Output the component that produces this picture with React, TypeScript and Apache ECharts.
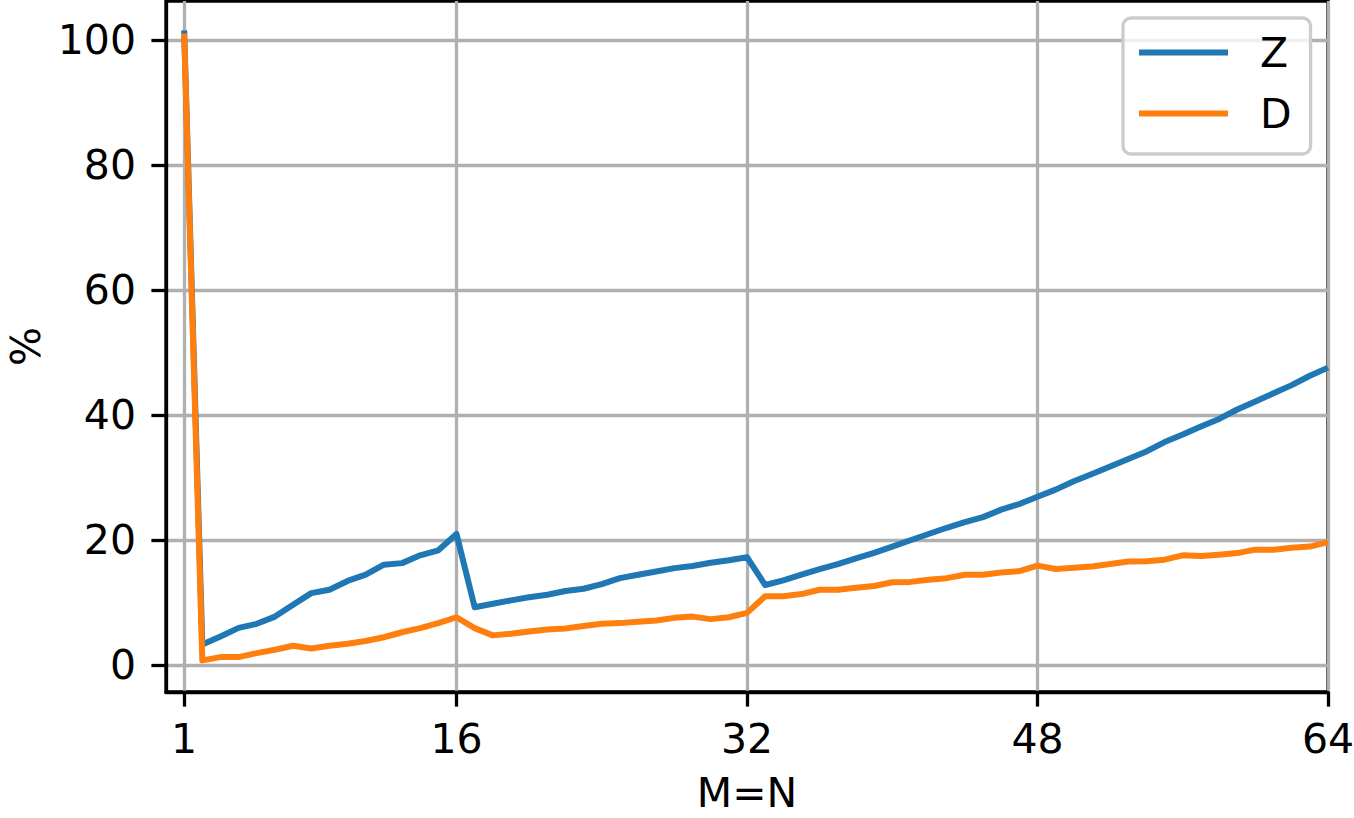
import React, { useEffect, useRef } from "react";
import * as echarts from "echarts";

const xValues: number[] = Array.from({ length: 64 }, (_, i) => i + 1);
const xTicks: number[] = [1, 16, 32, 48, 64];
const yTicks: number[] = [0, 20, 40, 60, 80, 100];

const zValues: number[] = [
  101.5, 3.35, 4.63, 6.0, 6.65, 7.8, 9.7, 11.55, 12.1, 13.5, 14.5, 16.1, 16.35, 17.6, 18.4, 21.0,
  9.3, 9.85, 10.4, 10.9, 11.3, 11.9, 12.25, 13.0, 13.95, 14.5, 15.0, 15.55, 15.9, 16.4, 16.8, 17.3,
  12.85, 13.6, 14.5, 15.4, 16.2, 17.1, 18.0, 19.0, 20.0, 21.0, 22.0, 22.9, 23.7, 24.9, 25.8, 26.95,
  28.1, 29.45, 30.6, 31.8, 33.0, 34.2, 35.7, 36.9, 38.2, 39.4, 40.9, 42.2, 43.5, 44.8, 46.3, 47.6,
];
const dValues: number[] = [
  101.0, 0.8, 1.33, 1.33, 1.97, 2.5, 3.14, 2.7, 3.14, 3.46, 3.9, 4.5, 5.3, 5.96, 6.76, 7.7,
  5.96, 4.8, 5.06, 5.43, 5.75, 5.9, 6.3, 6.65, 6.76, 6.97, 7.19, 7.6, 7.8, 7.4, 7.7, 8.4,
  11.05, 11.05, 11.4, 12.1, 12.1, 12.4, 12.7, 13.3, 13.35, 13.7, 13.95, 14.5, 14.5, 14.85, 15.07, 15.95,
  15.4, 15.6, 15.8, 16.2, 16.6, 16.65, 16.9, 17.6, 17.5, 17.7, 17.95, 18.5, 18.5, 18.8, 19.0, 19.7,
];

const FONT = "DejaVu Sans";
const FS = 41;
const GRID_COLOR = "#b0b0b0";

export default function App() {
  const ref = useRef<HTMLDivElement>(null);
  useEffect(() => {
    if (!ref.current) return;
    const chart = echarts.init(ref.current, null, { renderer: "svg" });
    const axisCommon = {
      axisLine: { show: true, onZero: false, lineStyle: { color: "#000", width: 3.3 } },
      axisTick: { show: true, length: 14.6, lineStyle: { color: "#000", width: 3.3 } },
      splitLine: { show: true, lineStyle: { color: GRID_COLOR, width: 3.3 } },
    };
    chart.setOption({
      animation: false,
      textStyle: { fontFamily: FONT },
      grid: {
        left: 166,
        right: 26,
        top: 1,
        bottom: 126,
        containLabel: false,
        outerBoundsMode: "none",
        show: true,
        borderColor: "#000",
        borderWidth: 3.3,
        backgroundColor: "transparent",
      },
      legend: {
        data: ["Z", "D"],
        orient: "vertical",
        left: 1123,
        top: 18,
        icon: "rect",
        itemWidth: 89,
        itemHeight: 6,
        itemGap: 20,
        padding: [14, 19, 20, 16],
        backgroundColor: "rgba(255,255,255,0.8)",
        borderColor: "#cccccc",
        borderWidth: 3.3,
        borderRadius: 8,
        textStyle: { fontFamily: FONT, fontSize: FS, color: "#000", padding: [0, 0, 0, 27], lineHeight: 41 },
      },
      xAxis: {
        type: "value",
        min: 0,
        max: 64,
        name: "M=N",
        nameLocation: "middle",
        nameGap: 82,
        nameTextStyle: { fontFamily: FONT, fontSize: FS, color: "#000", lineHeight: 38 },
        ...axisCommon,
        axisTick: { ...axisCommon.axisTick, customValues: xTicks },
        axisLabel: { customValues: xTicks, fontFamily: FONT, fontSize: FS, color: "#000", margin: 26 },
      },
      yAxis: {
        type: "value",
        min: -4.25,
        max: 106.2,
        name: "%",
        nameLocation: "middle",
        nameRotate: 90,
        nameGap: 121,
        nameTextStyle: { fontFamily: FONT, fontSize: FS, color: "#000", lineHeight: 36 },
        ...axisCommon,
        axisTick: { ...axisCommon.axisTick, customValues: yTicks },
        axisLabel: { customValues: yTicks, fontFamily: FONT, fontSize: FS, color: "#000", margin: 30 },
      },
      series: [
        {
          name: "Z",
          type: "line",
          symbol: "none",
          data: xValues.map((x, i) => [x, zValues[i]]),
          lineStyle: { color: "#1f77b4", width: 6, join: "round" },
          itemStyle: { color: "#1f77b4" },
        },
        {
          name: "D",
          type: "line",
          symbol: "none",
          data: xValues.map((x, i) => [x, dValues[i]]),
          lineStyle: { color: "#ff7f0e", width: 6, join: "round" },
          itemStyle: { color: "#ff7f0e" },
        },
      ],
    });
    return () => chart.dispose();
  }, []);
  return (
    <div
      ref={ref}
      style={{ position: "fixed", left: 0, top: 0, width: 1354, height: 818, background: "#fff" }}
    />
  );
}
